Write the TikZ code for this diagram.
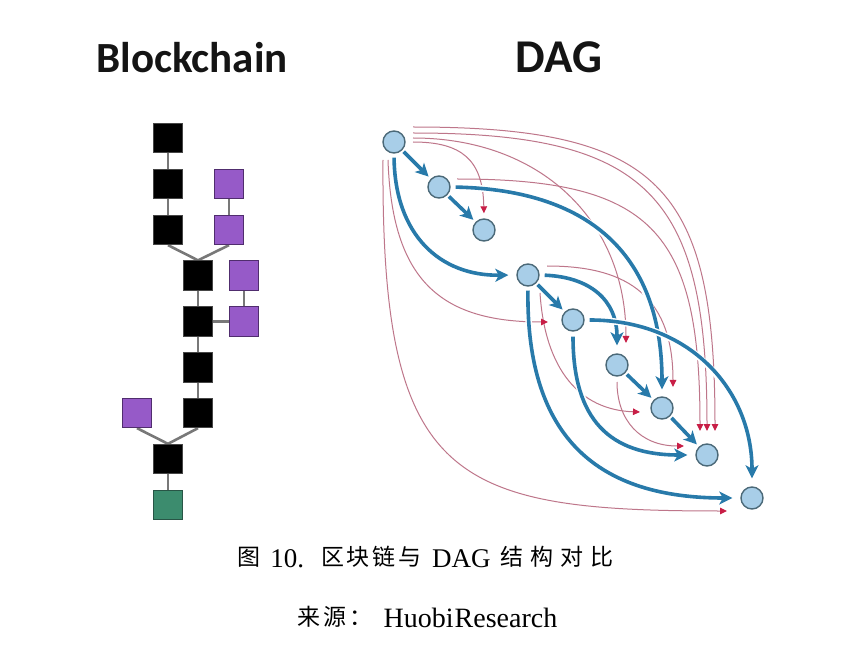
\documentclass[tikz,border=0pt]{standalone}
\usepackage{fontspec}
\setmainfont{Liberation Serif}
\newfontfamily\cjkfont{Noto Sans CJK SC}
\newfontfamily\carlfont{Carlito}
\usetikzlibrary{arrows.meta,backgrounds}
\definecolor{blkborder}{RGB}{70,70,70}
\definecolor{purfill}{RGB}{150,90,200}
\definecolor{purborder}{RGB}{80,45,110}
\definecolor{grnfill}{RGB}{60,140,110}
\definecolor{grnborder}{RGB}{40,85,70}
\definecolor{conngray}{RGB}{120,120,120}
\definecolor{nodefill}{RGB}{168,206,232}
\definecolor{nodeborder}{RGB}{75,105,120}
\definecolor{blueline}{RGB}{40,122,170}
\definecolor{redline}{RGB}{190,118,138}
\definecolor{redtip}{RGB}{200,30,70}
\newcommand{\mycj}[1]{\raisebox{1.5pt}{\cjkfont\fontsize{23}{28}\selectfont #1}}
\begin{document}
\begin{tikzpicture}[x=1pt,y=-1pt,
  sq/.style={rectangle, minimum size=29.5pt, inner sep=0pt, line width=0.8pt},
  blk/.style={sq, fill=black, draw=blkborder},
  pur/.style={sq, fill=purfill, draw=purborder},
  grn/.style={sq, fill=grnfill, draw=grnborder},
  conn/.style={draw=conngray, line width=2.6pt},
  dagnode/.style={circle, minimum size=22pt, inner sep=0pt, fill=nodefill, draw=nodeborder, line width=1.4pt},
  redl/.style={draw=redline, line width=1pt, -{Triangle[length=7pt,width=6.5pt,color=redtip,fill=redtip]}},
  bluel/.style={draw=blueline, line width=3.6pt, -{Stealth[length=13pt,width=13pt,inset=3.5pt]},
     preaction={draw=white, line width=6.5pt, -{}}},
  title/.style={font=\carlfont\bfseries, text=black!92, anchor=base, inner sep=0pt}
]
\useasboundingbox (0,0) rectangle (841,652);
\begin{scope}[on background layer]
\fill[white] (0,0) rectangle (841,652);
\end{scope}

% titles
\node[title, font=\carlfont\bfseries\fontsize{43}{50}\selectfont] (tb) at (192,73) {Blockchain};
\node[title, font=\carlfont\bfseries\fontsize{47}{54}\selectfont] (td) at (559,73) {DAG};

% blockchain
\node[blk] (b1) at (168,138) {};
\node[blk] (b2) at (168,184) {};
\node[blk] (b3) at (168,230) {};
\node[blk] (b4) at (198,275.5) {};
\node[blk] (b5) at (198,321.5) {};
\node[blk] (b6) at (198,367.5) {};
\node[blk] (b7) at (198,413) {};
\node[blk] (b8) at (168,459) {};
\node[grn] (g1) at (168,505) {};
\node[pur] (p1) at (229,184) {};
\node[pur] (p2) at (229,230) {};
\node[pur] (p3) at (244,275.5) {};
\node[pur] (p4) at (244,321.5) {};
\node[pur] (p5) at (137,413) {};
\begin{scope}[on background layer]
\draw[conn] (b1) -- (b2);
\draw[conn] (b2) -- (b3);
\draw[conn] (p1) -- (p2);
\draw[conn] (b3.south) -- (b4.north);
\draw[conn] (p2.south) -- (b4.north);
\draw[conn] (b4) -- (b5);
\draw[conn] (b5) -- (b6);
\draw[conn] (b6) -- (b7);
\draw[conn] (p3) -- (p4);
\draw[conn] (b5) -- (p4);
\draw[conn] (b7.south) -- (b8.north);
\draw[conn] (p5.south) -- (b8.north);
\draw[conn] (b8) -- (g1);
\end{scope}

% DAG nodes
\node[dagnode] (n1) at (394,142) {};
\node[dagnode] (n2) at (439,187) {};
\node[dagnode] (n3) at (484,230) {};
\node[dagnode] (n4) at (528,275) {};
\node[dagnode] (n5) at (573,320) {};
\node[dagnode] (n6) at (617,365) {};
\node[dagnode] (n7) at (662,408) {};
\node[dagnode] (n8) at (707,455) {};
\node[dagnode] (n9) at (752,498) {};

\coordinate (t6) at (626,343);
\coordinate (t7) at (673,387);
\coordinate (t8a) at (700,431);
\coordinate (t8b) at (707,431);
\coordinate (t8c) at (715,431);
\coordinate (l7) at (640,412);
\coordinate (l8) at (684,446);
\coordinate (l5) at (548,322);
\coordinate (l9) at (727,511);

\begin{scope}[on background layer]
% red references
\draw[redl, shorten >=5pt] ([shift={(19,0)}]n1.center) .. controls (462,142) and (483,160) .. (n3.north);
\draw[redl] ([shift={(19,-4)}]n1.center) .. controls (540,138) and (626,220) .. (t6);
\draw[redl] ([shift={(19,-9)}]n1.center) .. controls (648,133) and (707,195) .. (t8b);
\draw[redl] ([shift={(19,-15)}]n1.center) .. controls (658,127) and (715,185) .. (t8c);
\draw[redl] ([shift={(18,-8)}]n2.center) .. controls (651,179) and (700,230) .. (t8a);
\draw[redl] ([shift={(19,-9)}]n4.center) .. controls (620,266) and (673,290) .. (t7);
\draw[redl] ([shift={(12,18)}]n4.center) .. controls (545,370) and (580,410) .. (l7);
\draw[redl] ([shift={(0,17)}]n6.center) .. controls (617,420) and (640,446) .. (l8);
\draw[redl] ([shift={(-6,18)}]n1.center) .. controls (392,280) and (440,322) .. (l5);
\draw[redl] ([shift={(-11,18)}]n1.center) .. controls (381,480) and (450,511) .. (l9);
% blue approvals
\draw[bluel, shorten <=2pt, shorten >=3pt] (n1) -- (n2);
\draw[bluel, shorten <=2pt, shorten >=3pt] (n2) -- (n3);
\draw[bluel, shorten <=2pt, shorten >=3pt] (n4) -- (n5);
\draw[bluel, shorten <=2pt, shorten >=3pt] (n6) -- (n7);
\draw[bluel, shorten <=2pt, shorten >=3pt] (n7) -- (n8);
\draw[bluel, shorten <=4pt, shorten >=8pt] (n1.south) .. controls (395,235) and (440,276) .. (n4.west);
\draw[bluel, shorten <=5pt, shorten >=7pt] (n2.east) .. controls (595,190) and (662,260) .. (n7.north);
\draw[bluel, shorten <=5pt, shorten >=8pt] (n4.east) .. controls (590,277) and (617,300) .. (n6.north);
\draw[bluel, shorten <=4pt, shorten >=8pt] (n4.south) .. controls (526,440) and (600,498) .. (n9.west);
\draw[bluel, shorten <=5pt, shorten >=8pt] (n5.east) .. controls (690,320) and (752,390) .. (n9.north);
\draw[bluel, shorten <=5pt, shorten >=8pt] (n5.south) .. controls (573,420) and (610,455) .. (n8.west);
\end{scope}

% captions
\node[anchor=base, inner sep=0pt] (cap1) at (425.5,567) {\fontsize{27}{30}\selectfont\mycj{图}\hspace{10pt}10.\hspace{17pt}\mycj{区\hspace{2.7pt}块\hspace{2.7pt}链\hspace{2.7pt}与}\hspace{11pt}DAG\hspace{10pt}\mycj{结\hspace{7pt}构\hspace{7pt}对\hspace{7pt}比}};
\node[anchor=base, inner sep=0pt] (cap2) at (427.5,627) {\fontsize{28}{30}\selectfont\mycj{来\hspace{3pt}源\hspace{3pt}：}\hspace{11pt}Huobi\hspace{1pt}Research};
\end{tikzpicture}
\end{document}
